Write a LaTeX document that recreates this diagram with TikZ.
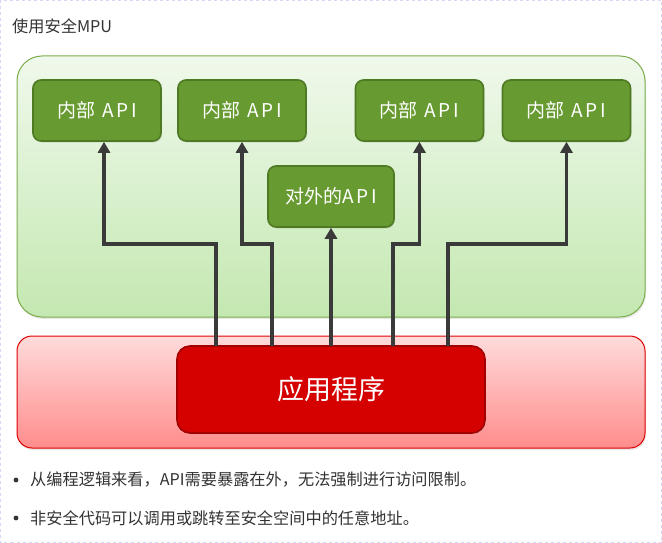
\documentclass[tikz,border=0pt]{standalone}
\usepackage{xcolor}
\usepackage{fontspec}
\setmainfont{Noto Sans CJK SC}
\usepackage{tikz}
\usetikzlibrary{arrows.meta,shadows,calc}
\definecolor{frame}{HTML}{D6D6F6}
\definecolor{ink}{HTML}{3A3A3A}
\definecolor{textgray}{HTML}{333333}
\definecolor{zoneTop}{HTML}{F0F9EC}
\definecolor{zoneBot}{HTML}{C4E8B1}
\definecolor{zoneLine}{HTML}{7AAD4A}
\definecolor{apiFill}{HTML}{679A30}
\definecolor{apiLine}{HTML}{4E7A23}
\definecolor{redTop}{HTML}{FFDBDB}
\definecolor{redBot}{HTML}{FF8C8C}
\definecolor{redLine}{HTML}{DF0000}
\definecolor{appFill}{HTML}{D50000}
\definecolor{appLine}{HTML}{A20000}
\tikzset{
  Zone/.style={
    draw=zoneLine, line width=1pt, rounded corners=25pt,
    top color=zoneTop, bottom color=zoneBot,
    drop shadow={opacity=0.18, shadow xshift=1pt, shadow yshift=-2pt}
  },
  RedZone/.style={
    draw=redLine, line width=1pt, rounded corners=15pt,
    top color=redTop, bottom color=redBot,
    drop shadow={opacity=0.18, shadow xshift=1pt, shadow yshift=-2pt}
  },
  ApiBox/.style={
    draw=apiLine, line width=1.6pt, fill=apiFill, rounded corners=8pt,
    minimum width=128pt, minimum height=61pt, inner sep=0pt,
    text=white, font=\fontsize{19}{22}\selectfont,
    drop shadow={opacity=0.2, shadow xshift=1pt, shadow yshift=-1.5pt}
  },
  AppBox/.style={
    draw=appLine, line width=1.6pt, fill=appFill, rounded corners=13pt,
    minimum width=308pt, minimum height=87pt, inner sep=0pt,
    text=white, font=\fontsize{27}{30}\selectfont,
    drop shadow={opacity=0.2, shadow xshift=1pt, shadow yshift=-1.5pt}
  },
  Link/.style={
    draw=ink, line width=3.6pt, -{Triangle[width=12pt,length=11pt]}
  },
  Note/.style={anchor=west, inner sep=0pt, text=textgray,
    font=\fontsize{16.2}{19}\selectfont}
}
\newcommand{\Spaced}[1]{\addfontfeature{LetterSpace=14}#1}

\begin{document}
\begin{tikzpicture}[x=1pt, y=-1pt]
  \useasboundingbox (0,0) rectangle (662,543);
  % page frame
  \draw[frame, dashed, line width=0.8pt] (0.5,0.5) rectangle (661.5,542.5);

  \node[Note] (title) at (12,26) {使用安全MPU};

  % secure zone and app zone
  \path[Zone] (17,56) rectangle (645,317);
  \path[RedZone] (17,336) rectangle (645,448);

  % APIs
  \node[ApiBox] (api1) at (97,110.5) {内部\hspace{7pt}{\Spaced{AP}I}};
  \node[ApiBox] (api2) at (242,110.5) {内部\hspace{7pt}{\Spaced{AP}I}};
  \node[ApiBox] (api3) at (419.5,110.5) {内部\hspace{7pt}{\Spaced{AP}I}};
  \node[ApiBox] (api4) at (566.5,110.5) {内部\hspace{7pt}{\Spaced{AP}I}};
  \node[ApiBox, minimum width=126pt] (ext) at (331,196.5) {对外的{\Spaced{AP}I}};

  \node[AppBox] (app) at (331,389.5) {应用程序};

  % taps on the application
  \coordinate (bend) at (0,244);
  \coordinate (t1) at (216,346);
  \coordinate (t2) at (272,346);
  \coordinate (t3) at (331,346);
  \coordinate (t4) at (393,346);
  \coordinate (t5) at (448,346);

  \draw[Link] (t1) -- (t1 |- bend) -| ([xshift=7pt]api1.south);
  \draw[Link] (t2) -- (t2 |- bend) -| (api2.south);
  \draw[Link] (t3) -- (ext.south);
  \draw[Link] (t4) -- (t4 |- bend) -| (api3.south);
  \draw[Link] (t5) -- (t5 |- bend) -| (api4.south);

  % notes
  \fill[textgray] (16,480) circle (2.4pt);
  \fill[textgray] (16,518) circle (2.4pt);
  \node[Note] (note1) at (30,480) {从编程逻辑来看，API需要暴露在外，无法强制进行访问限制。};
  \node[Note] (note2) at (30,518) {非安全代码可以调用或跳转至安全空间中的任意地址。};
\end{tikzpicture}
\end{document}
